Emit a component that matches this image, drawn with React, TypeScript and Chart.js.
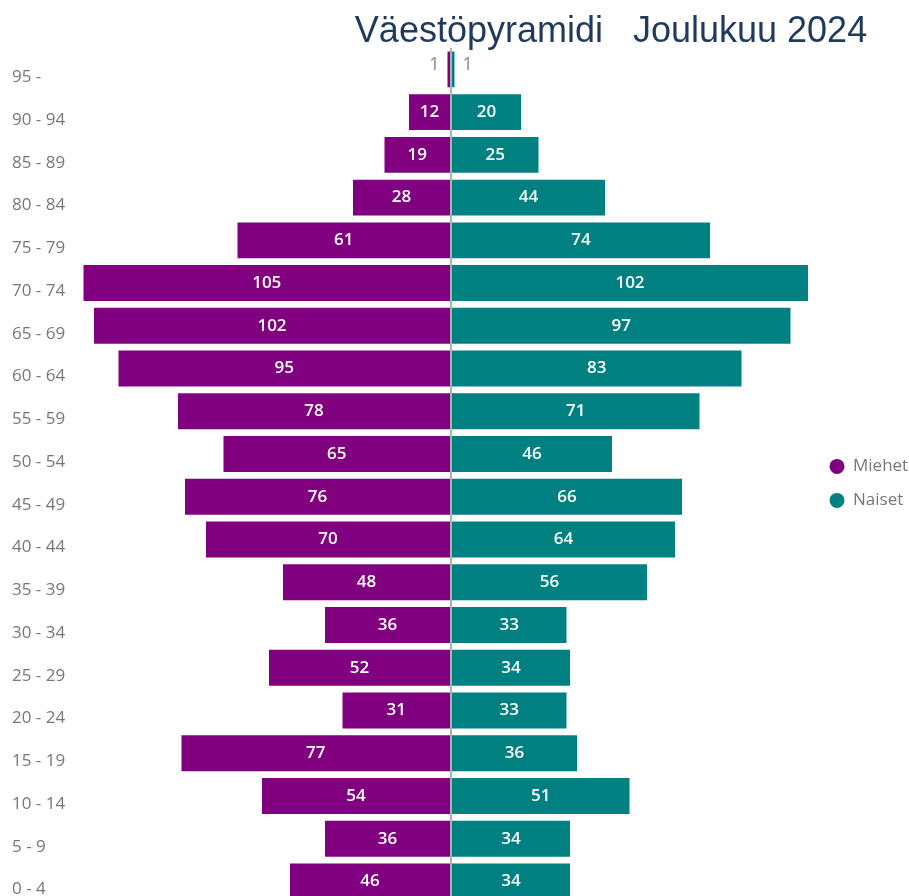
import React, { useEffect, useRef } from "react";
import { Chart, registerables } from "chart.js";

Chart.register(...registerables);

const TITLE = "Väestöpyramidi   Joulukuu 2024";
const AGE_GROUPS = [
  "95 -", "90 - 94", "85 - 89", "80 - 84", "75 - 79", "70 - 74", "65 - 69",
  "60 - 64", "55 - 59", "50 - 54", "45 - 49", "40 - 44", "35 - 39", "30 - 34",
  "25 - 29", "20 - 24", "15 - 19", "10 - 14", "5 - 9", "0 - 4",
];
const MEN = [1, 12, 19, 28, 61, 105, 102, 95, 78, 65, 76, 70, 48, 36, 52, 31, 77, 54, 36, 46];
const WOMEN = [1, 20, 25, 44, 74, 102, 97, 83, 71, 46, 66, 64, 56, 33, 34, 33, 36, 51, 34, 34];
const SERIES_NAMES = ["Miehet", "Naiset"];
const COLORS = ["#800080", "#008080"];
const AXIS_LIMIT = 106;

const labelPlugin = {
  id: "barLabels",
  afterDatasetsDraw(chart: any) {
    const ctx = chart.ctx;
    ctx.save();
    ctx.textBaseline = "middle";
    chart.data.datasets.forEach((ds: any, di: number) => {
      const meta = chart.getDatasetMeta(di);
      meta.data.forEach((el: any, i: number) => {
        const raw = Math.abs(ds.data[i]);
        const text = String(raw);
        ctx.font = '600 17px "Open Sans"';
        const tw = ctx.measureText(text).width;
        const left = Math.min(el.x, el.base);
        const right = Math.max(el.x, el.base);
        const w = right - left;
        if (w > tw + 6) {
          ctx.fillStyle = "#ffffff";
          ctx.textAlign = "center";
          ctx.fillText(text, (left + right) / 2, el.y);
        } else {
          ctx.font = '18px "Open Sans"';
          ctx.fillStyle = "#8a8a8a";
          if (ds.data[i] < 0) {
            ctx.textAlign = "right";
            ctx.fillText(text, left - 8, el.y - 4);
          } else {
            ctx.textAlign = "left";
            ctx.fillText(text, right + 8, el.y - 4);
          }
        }
      });
    });
    ctx.restore();
  },
};

const titlePlugin = {
  id: "customTitle",
  afterDraw(chart: any) {
    const ctx = chart.ctx;
    ctx.save();
    ctx.font = '36px "Liberation Sans"';
    ctx.fillStyle = "#1F3A5C";
    ctx.textAlign = "center";
    ctx.textBaseline = "alphabetic";
    ctx.fillText(TITLE, 603, 34);
    ctx.restore();
  },
};

const legendPlugin = {
  id: "customLegend",
  afterDraw(chart: any) {
    const ctx = chart.ctx;
    const area = chart.chartArea;
    const mid = (area.top + area.bottom) / 2;
    ctx.save();
    ctx.font = '17px "Open Sans"';
    ctx.textBaseline = "middle";
    ctx.textAlign = "left";
    chart.data.datasets.forEach((ds: any, i: number) => {
      const y = mid - 9 + i * 34;
      ctx.fillStyle = ds.backgroundColor;
      ctx.beginPath();
      ctx.arc(area.right + 15, y, 7.5, 0, Math.PI * 2);
      ctx.fill();
      ctx.fillStyle = "#777777";
      ctx.fillText(ds.label, area.right + 31, y);
    });
    ctx.restore();
  },
};

export default function App() {
  const ref = useRef<HTMLCanvasElement | null>(null);
  useEffect(() => {
    if (!ref.current) return;
    const chart = new Chart(ref.current, {
      type: "bar",
      data: {
        labels: AGE_GROUPS,
        datasets: [
          {
            label: SERIES_NAMES[0],
            data: MEN.map((v) => -v),
            backgroundColor: COLORS[0],
            borderWidth: 0,
            categoryPercentage: 0.84,
            barPercentage: 1,
          },
          {
            label: SERIES_NAMES[1],
            data: WOMEN,
            backgroundColor: COLORS[1],
            borderWidth: 0,
            categoryPercentage: 0.84,
            barPercentage: 1,
          },
        ],
      },
      options: {
        indexAxis: "y",
        responsive: true,
        maintainAspectRatio: false,
        animation: false,
        layout: { padding: { top: 40, left: 4, right: 87, bottom: 0 } },
        scales: {
          x: {
            type: "linear",
            min: -AXIS_LIMIT,
            max: AXIS_LIMIT,
            stacked: true,
            z: 1,
            border: { display: false },
            ticks: { display: false, stepSize: AXIS_LIMIT },
            grid: {
              drawTicks: false,
              lineWidth: 2,
              color: (c: any) => (c.tick && c.tick.value === 0 ? "#b0b0b0" : "rgba(0,0,0,0)"),
            },
          },
          y: {
            type: "category",
            stacked: true,
            border: { display: false },
            grid: { display: false },
            ticks: {
              color: "#777777",
              font: { size: 17, family: '"Open Sans"' },
              crossAlign: "far",
              labelOffset: 8,
              padding: 0,
            },
            afterFit: (s: any) => {
              s.width = 68;
            },
          },
        },
        plugins: {
          legend: { display: false },
          title: { display: false },
          tooltip: { enabled: false },
        },
      },
      plugins: [labelPlugin, titlePlugin, legendPlugin],
    });
    return () => chart.destroy();
  }, []);
  return (
    <div style={{ position: "absolute", left: 8, top: 8, width: 901, height: 888, overflow: "hidden" }}>
      <div style={{ position: "relative", width: 901, height: 905 }}>
        <canvas ref={ref} />
      </div>
    </div>
  );
}
